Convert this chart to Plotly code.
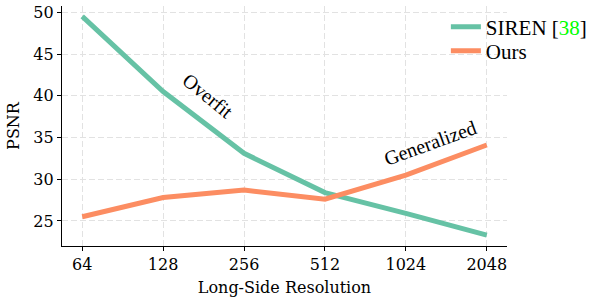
import plotly.graph_objects as go

resolutions = ["64", "128", "256", "512", "1024", "2048"]
siren_psnr = [49.5, 40.5, 33.1, 28.4, 25.9, 23.3]
ours_psnr = [25.5, 27.8, 28.7, 27.6, 30.5, 34.1]
y_ticks = [25, 30, 35, 40, 45, 50]

SIREN_COLOR = "#66c2a5"
OURS_COLOR = "#fc8d62"
SERIF = "DejaVu Serif"
TIMES = "Liberation Serif"
TICK_SIZE = 16

fig = go.Figure()
fig.add_trace(go.Scatter(
    x=resolutions, y=siren_psnr, mode="lines",
    name="SIREN [<span style='color:#00ff00'>38</span>]",
    line=dict(color=SIREN_COLOR, width=5), legend="legend",
))
fig.add_trace(go.Scatter(
    x=resolutions, y=ours_psnr, mode="lines", name="Ours",
    line=dict(color=OURS_COLOR, width=5), legend="legend2",
))

fig.add_annotation(x=1.56, y=40.0, xref="x", yref="y", text="Overfit",
                   textangle=39, showarrow=False,
                   font=dict(family=TIMES, size=20, color="black"))
fig.add_annotation(x=4.30, y=34.3, xref="x", yref="y", text="Generalized",
                   textangle=-20, showarrow=False,
                   font=dict(family=TIMES, size=20, color="black"))

axis_common = dict(
    showline=True, linecolor="black", linewidth=1.3, mirror=False,
    ticks="outside", ticklen=4, tickwidth=1.2, tickcolor="black",
    showgrid=True, gridcolor="#e2e2e2", gridwidth=1, griddash="5.5px,3.5px",
    zeroline=False, automargin=False,
    tickfont=dict(family=SERIF, size=TICK_SIZE, color="black"),
)

fig.update_xaxes(
    type="category", range=[-0.25, 5.25],
    title=dict(text="Long-Side Resolution", font=dict(family=SERIF, size=TICK_SIZE, color="black"), standoff=8),
    **axis_common,
)
fig.update_yaxes(
    range=[22.0, 50.75], tickvals=y_ticks,
    title=dict(text="PSNR", font=dict(family=SERIF, size=TICK_SIZE, color="black"), standoff=9),
    **axis_common,
)

legend_common = dict(
    xref="container", yref="container", xanchor="left", yanchor="middle",
    bgcolor="rgba(0,0,0,0)", font=dict(family=TIMES, size=21, color="black"),
    itemwidth=30, borderwidth=0,
)

fig.update_layout(
    width=589, height=298,
    margin=dict(l=62, r=82, t=6, b=52, autoexpand=False),
    paper_bgcolor="white", plot_bgcolor="white",
    showlegend=True,
    legend=dict(x=0.757, y=1 - 27 / 298, **legend_common),
    legend2=dict(x=0.757, y=1 - 51 / 298, **legend_common),
)

fig.write_html("out.html", config={"displayModeBar": False},
               post_script="document.body.style.margin='0px';")
